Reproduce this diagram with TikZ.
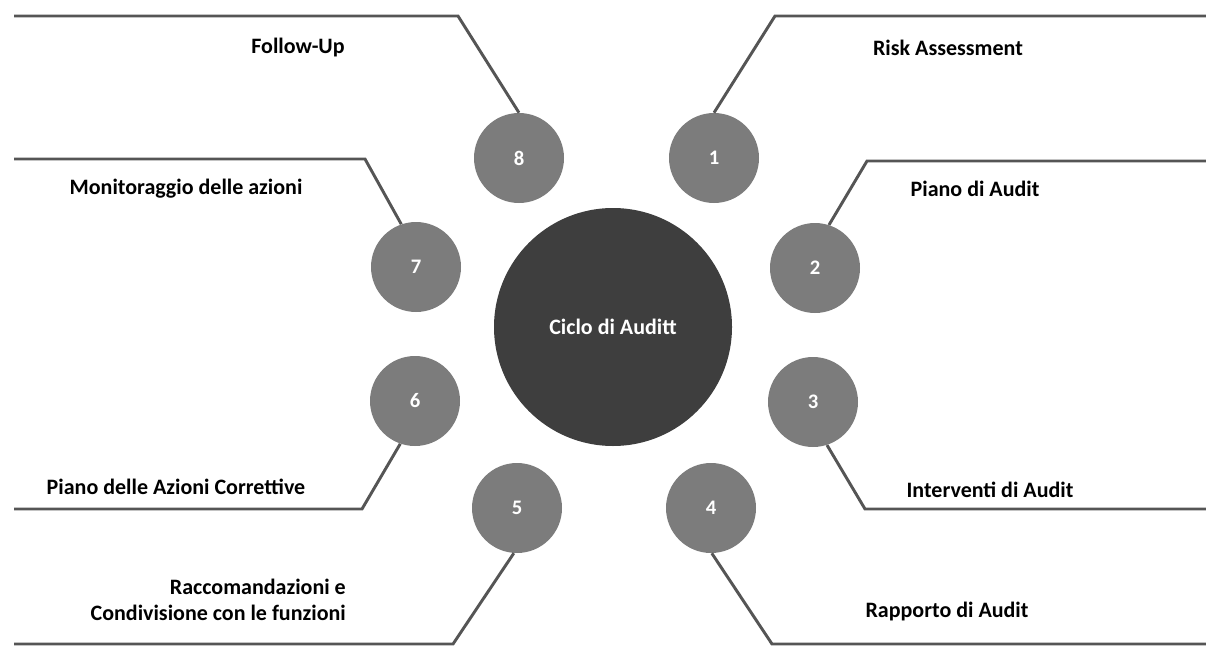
\documentclass[tikz,border=0pt]{standalone}
\usepackage{fontspec}
\setmainfont{Carlito}
\definecolor{numgray}{HTML}{7C7C7C}
\definecolor{hubgray}{HTML}{3E3E3E}
\definecolor{linegray}{HTML}{555555}
\begin{document}
\begin{tikzpicture}[x=0.75pt,y=-0.75pt,
  lbl/.style={font=\bfseries\fontsize{16.5}{20}\selectfont, text=black, inner sep=0pt},
  num/.style={circle, fill=numgray, minimum size=67.5pt, inner sep=0pt, text=white,
    font=\bfseries\fontsize{15.5}{18}\selectfont},
  hub/.style={circle, fill=hubgray, minimum size=178.5pt, inner sep=0pt, text=white,
    font=\bfseries\fontsize{16.5}{20}\selectfont},
  leader/.style={draw=linegray, line width=2.2pt, line join=miter}]
\path[use as bounding box] (0,0) rectangle (1206,646);

% hub and numbered circles
\node[hub] (hub) at (613,327) {Ciclo di Auditt};
\node[num] (c1) at (714,158) {1};
\node[num] (c2) at (815,268) {2};
\node[num] (c3) at (813,402) {3};
\node[num] (c4) at (711,508) {4};
\node[num] (c5) at (517,508) {5};
\node[num] (c6) at (415,401) {6};
\node[num] (c7) at (416,267) {7};
\node[num] (c8) at (519,158) {8};

% corner and free-end coordinates
\coordinate (k1) at (775,16);  \coordinate (e1) at (1206,16);
\coordinate (k2) at (867,161); \coordinate (e2) at (1206,161);
\coordinate (k3) at (865,509); \coordinate (e3) at (1206,509);
\coordinate (k4) at (772,644); \coordinate (e4) at (1206,644);
\coordinate (k5) at (453,644); \coordinate (e5) at (14,644);
\coordinate (k6) at (362,509); \coordinate (e6) at (14,509);
\coordinate (k7) at (365,159); \coordinate (e7) at (14,159);
\coordinate (k8) at (458,16);  \coordinate (e8) at (14,16);

% leaders
\draw[leader] (c1.90)  -- (k1) -- (e1);
\draw[leader] (c2.72)  -- (k2) -- (e2);
\draw[leader] (c3.288) -- (k3) -- (e3);
\draw[leader] (c4.271) -- (k4) -- (e4);
\draw[leader] (c5.266) -- (k5) -- (e5);
\draw[leader] (c6.251) -- (k6) -- (e6);
\draw[leader] (c7.109) -- (k7) -- (e7);
\draw[leader] (c8.90)  -- (k8) -- (e8);

% labels
\node[lbl] (t1) at (948,48) {Risk Assessment};
\node[lbl] (t2) at (975,189) {Piano di Audit};
\node[lbl] (t3) at (990,490) {Interventi di Audit};
\node[lbl] (t4) at (947,612) {Rapporto di Audit};
\node[lbl, align=right, anchor=east] (t5) at (346,600)
  {Raccomandazioni e\\Condivisione con le funzioni};
\node[lbl] (t6) at (176,487) {Piano delle Azioni Correttive};
\node[lbl] (t7) at (186,189) {Monitoraggio delle azioni};
\node[lbl] (t8) at (298,48) {Follow-Up};
\end{tikzpicture}
\end{document}
